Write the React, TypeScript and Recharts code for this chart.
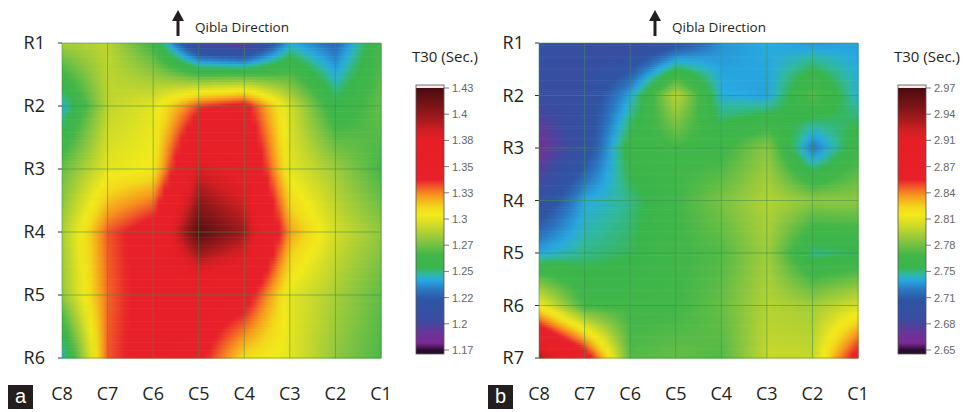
import React from "react";
import { ScatterChart, Scatter, XAxis, YAxis, Legend } from "recharts";

// Measurement grid: columns C8..C1 from left to right
const columns = ["C8", "C7", "C6", "C5", "C4", "C3", "C2", "C1"];

// (a) T30 values, rows R1..R6
const rowsA = ["R1", "R2", "R3", "R4", "R5", "R6"];
const t30A = [
  [1.285, 1.29, 1.262, 1.195, 1.185, 1.24, 1.225, 1.265],
  [1.24, 1.29, 1.3, 1.335, 1.345, 1.295, 1.255, 1.272],
  [1.272, 1.3, 1.305, 1.385, 1.37, 1.3, 1.283, 1.264],
  [1.285, 1.332, 1.35, 1.425, 1.4, 1.322, 1.295, 1.28],
  [1.28, 1.33, 1.35, 1.355, 1.35, 1.3, 1.285, 1.27],
  [1.24, 1.332, 1.35, 1.345, 1.31, 1.3, 1.28, 1.266],
];
const scaleA = [1.17, 1.43];
const legendTicksA = ["1.43", "1.4", "1.38", "1.35", "1.33", "1.3", "1.27", "1.25", "1.22", "1.2", "1.17"];

// (b) T30 values, rows R1..R7
const rowsB = ["R1", "R2", "R3", "R4", "R5", "R6", "R7"];
const t30B = [
  [2.7, 2.69, 2.685, 2.705, 2.73, 2.736, 2.73, 2.734],
  [2.69, 2.695, 2.735, 2.798, 2.737, 2.733, 2.772, 2.737],
  [2.665, 2.7, 2.76, 2.765, 2.762, 2.785, 2.722, 2.762],
  [2.695, 2.735, 2.745, 2.765, 2.78, 2.795, 2.785, 2.785],
  [2.735, 2.745, 2.75, 2.765, 2.77, 2.79, 2.745, 2.75],
  [2.815, 2.765, 2.765, 2.765, 2.775, 2.795, 2.79, 2.805],
  [2.93, 2.875, 2.77, 2.775, 2.77, 2.8, 2.8, 2.87],
];
const scaleB = [2.65, 2.97];
const legendTicksB = ["2.97", "2.94", "2.91", "2.87", "2.84", "2.81", "2.78", "2.75", "2.71", "2.68", "2.65"];

// colour ramp, 0 = bottom of the bar, 1 = top
const colorStops: [number, string][] = [
  [0, "#2a0c30"],
  [0.027, "#7b2a95"],
  [0.065, "#6a3598"],
  [0.115, "#3a4ca0"],
  [0.191, "#2e55a5"],
  [0.229, "#2b75c0"],
  [0.267, "#27aae1"],
  [0.29, "#30b8a0"],
  [0.317, "#39b54a"],
  [0.363, "#42b649"],
  [0.42, "#8cc63f"],
  [0.47, "#c8d82a"],
  [0.515, "#f2ea1a"],
  [0.546, "#f2d81a"],
  [0.592, "#f7941d"],
  [0.622, "#f05a28"],
  [0.65, "#e8202a"],
  [0.8, "#e61e25"],
  [0.84, "#d01e22"],
  [0.885, "#a01a1c"],
  [0.954, "#6a1215"],
  [1, "#4a0a0e"],
];

const font = "'Open Sans', sans-serif";
const gridStroke = "#3f8f4c";

function hexToRgb(h: string) {
  const n = parseInt(h.slice(1), 16);
  return [(n >> 16) & 255, (n >> 8) & 255, n & 255];
}

function colorAt(t: number) {
  const v = Math.max(0, Math.min(1, t));
  for (let i = 1; i < colorStops.length; i++) {
    const [t1, c1] = colorStops[i];
    if (v <= t1) {
      const [t0, c0] = colorStops[i - 1];
      const f = (v - t0) / (t1 - t0 || 1);
      const a = hexToRgb(c0);
      const b = hexToRgb(c1);
      const m = a.map((x, k) => Math.round(x + (b[k] - x) * f));
      return `rgb(${m[0]},${m[1]},${m[2]})`;
    }
  }
  return colorStops[colorStops.length - 1][1];
}

// one entry per grid cell, holding the values at its four corners
function buildCells(values: number[][]) {
  const cells = [];
  const nr = values.length - 1;
  for (let i = 0; i < nr; i++) {
    const nc = values[i].length - 1;
    for (let j = 0; j < nc; j++) {
      cells.push({
        x: j + 0.5,
        y: i + 0.5,
        tl: values[i][j],
        tr: values[i][j + 1],
        bl: values[i + 1][j],
        br: values[i + 1][j + 1],
        lastCol: j === nc - 1,
        lastRow: i === nr - 1,
      });
    }
  }
  return cells;
}

const STRIPS = 24;
const STOPS = 9;

function cellShape(prefix: string, min: number, max: number, w: number, h: number) {
  return (props: any) => {
    const { cx, cy, payload, index } = props;
    if (cx == null || cy == null) return <g />;
    const x0 = cx - w / 2;
    const y0 = cy - h / 2;
    const sh = h / STRIPS;
    const toT = (v: number) => (v - min) / (max - min);
    const defs = [];
    const rects = [];
    for (let s = 0; s < STRIPS; s++) {
      const fy = (s + 0.5) / STRIPS;
      const vl = payload.tl + (payload.bl - payload.tl) * fy;
      const vr = payload.tr + (payload.br - payload.tr) * fy;
      const id = `${prefix}-${index}-${s}`;
      const stops = [];
      for (let k = 0; k < STOPS; k++) {
        const fx = k / (STOPS - 1);
        stops.push(<stop key={k} offset={fx} stopColor={colorAt(toT(vl + (vr - vl) * fx))} />);
      }
      defs.push(
        <linearGradient key={id} id={id} x1="0" y1="0" x2="1" y2="0">
          {stops}
        </linearGradient>
      );
      rects.push(
        <rect key={s} x={x0} y={y0 + s * sh} width={w + 0.6} height={sh + 0.6} fill={`url(#${id})`} />
      );
    }
    return (
      <g>
        <defs>{defs}</defs>
        {rects}
      </g>
    );
  };
}

// grid lines drawn over the shaded cells
function gridShape(w: number, h: number) {
  return (props: any) => {
    const { cx, cy, payload } = props;
    if (cx == null || cy == null) return <g />;
    const x0 = cx - w / 2;
    const y0 = cy - h / 2;
    const line = { stroke: gridStroke, strokeOpacity: 0.55, strokeWidth: 1 };
    return (
      <g>
        <line x1={x0} x2={x0 + w} y1={y0} y2={y0} {...line} />
        <line x1={x0} x2={x0} y1={y0} y2={y0 + h} {...line} />
        {payload.lastCol && <line x1={x0 + w} x2={x0 + w} y1={y0} y2={y0 + h} {...line} />}
        {payload.lastRow && <line x1={x0} x2={x0 + w} y1={y0 + h} y2={y0 + h} {...line} />}
      </g>
    );
  };
}

function ColorBar({ id, title, labels }: { id: string; title: string; labels: string[] }) {
  const top = 48;
  const bottom = 310;
  const step = (bottom - top) / (labels.length - 1);
  return (
    <svg width={80} height={330} style={{ overflow: "visible", display: "block" }}>
      <defs>
        <linearGradient id={id} x1="0" y1="1" x2="0" y2="0">
          {colorStops.map(([t, c]) => (
            <stop key={t} offset={t} stopColor={c} />
          ))}
        </linearGradient>
      </defs>
      <text x={7} y={22} fontSize={15} fill="#231f20" fontFamily={font}>
        {title}
      </text>
      <rect x={11} y={45} width={28} height={3} fill="#f3eded" />
      <rect x={11} y={48} width={28} height={bottom - top} fill={`url(#${id})`} />
      <rect x={11} y={bottom} width={28} height={4} fill="#2a0c30" />
      <rect x={11} y={45} width={28} height={bottom - 45 + 4} fill="none" stroke="#555" strokeWidth={0.8} />
      {labels.map((l, k) => (
        <g key={l + k}>
          <line x1={39} x2={44} y1={top + k * step} y2={top + k * step} stroke="#555" strokeWidth={0.8} />
          <text x={47} y={top + k * step} dominantBaseline="central" fontSize={11} fill="#666" fontFamily="'Liberation Sans', Arial, sans-serif">
            {l}
          </text>
        </g>
      ))}
    </svg>
  );
}

const HEIGHT = 412;
const MARGIN_TOP = 43;
const X_AXIS_H = 54;

type PanelProps = {
  id: string;
  left: number;
  width: number;
  yAxisWidth: number;
  labelGap: number;
  marginRight: number;
  rows: string[];
  values: number[][];
  scale: number[];
  legendTicks: string[];
  legendLeft: number;
};

function Panel(p: PanelProps) {
  const plotW = p.width - p.yAxisWidth - p.marginRight;
  const plotH = HEIGHT - MARGIN_TOP - X_AXIS_H;
  const cellW = plotW / (columns.length - 1);
  const cellH = plotH / (p.rows.length - 1);
  const cells = buildCells(p.values);
  return (
    <div style={{ position: "absolute", left: p.left, top: 0 }}>
      <ScatterChart width={p.width} height={HEIGHT} margin={{ top: MARGIN_TOP, right: p.marginRight, bottom: 0, left: 0 }}>
        <XAxis
          type="number"
          dataKey="x"
          domain={[0, columns.length - 1]}
          ticks={columns.map((_, i) => i)}
          tickFormatter={(i: number) => columns[i]}
          interval={0}
          axisLine={false}
          tickLine={false}
          tickSize={6}
          tickMargin={23}
          height={X_AXIS_H}
          tick={{ fill: "#231f20", fontSize: 18, fontFamily: font }}
        />
        <YAxis
          type="number"
          dataKey="y"
          reversed
          domain={[0, p.rows.length - 1]}
          ticks={p.rows.map((_, i) => i)}
          tickFormatter={(i: number) => p.rows[i]}
          interval={0}
          width={p.yAxisWidth}
          axisLine={false}
          tickSize={4}
          tickLine={{ stroke: "#333" }}
          tickMargin={p.labelGap}
          tick={{ fill: "#231f20", fontSize: 18, fontFamily: font }}
        />
        <Scatter
          data={cells}
          shape={cellShape(p.id, p.scale[0], p.scale[1], cellW, cellH)}
          isAnimationActive={false}
        />
        <Scatter data={cells} shape={gridShape(cellW, cellH)} isAnimationActive={false} />
        <Legend
          layout="vertical"
          align="center"
          verticalAlign="middle"
          wrapperStyle={{ left: p.legendLeft, top: 40, width: 80, height: 330 }}
          content={() => <ColorBar id={`${p.id}-bar`} title="T30 (Sec.)" labels={p.legendTicks} />}
        />
      </ScatterChart>
    </div>
  );
}

function Qibla({ x }: { x: number }) {
  return (
    <g>
      <polygon points={`${x},10 ${x - 6},21 ${x + 6},21`} fill="#231f20" />
      <rect x={x - 1.5} y={20} width={3} height={16} fill="#231f20" />
      <text x={x + 17} y={32} fontSize={13.5} fill="#231f20" fontFamily={font}>
        Qibla Direction
      </text>
    </g>
  );
}

function Tag({ x, letter }: { x: number; letter: string }) {
  return (
    <g>
      <rect x={x} y={385} width={25} height={24} fill="#231f20" />
      <text x={x + 12.5} y={403} textAnchor="middle" fontSize={20} fill="#fff" fontFamily="'Liberation Sans', Arial, sans-serif">
        {letter}
      </text>
    </g>
  );
}

export default function App() {
  return (
    <div style={{ position: "absolute", left: 0, top: 0, width: 966, height: 412, background: "#fff", overflow: "hidden" }}>
      <Panel
        id="a"
        left={0}
        width={480}
        yAxisWidth={62}
        labelGap={13}
        marginRight={99}
        rows={rowsA}
        values={t30A}
        scale={scaleA}
        legendTicks={legendTicksA}
        legendLeft={405}
      />
      <Panel
        id="b"
        left={480}
        width={486}
        yAxisWidth={59}
        labelGap={11}
        marginRight={108}
        rows={rowsB}
        values={t30B}
        scale={scaleB}
        legendTicks={legendTicksB}
        legendLeft={407}
      />
      <svg width={966} height={412} style={{ position: "absolute", left: 0, top: 0, pointerEvents: "none" }}>
        <Qibla x={178} />
        <Qibla x={655} />
        <Tag x={8} letter="a" />
        <Tag x={488} letter="b" />
      </svg>
    </div>
  );
}
